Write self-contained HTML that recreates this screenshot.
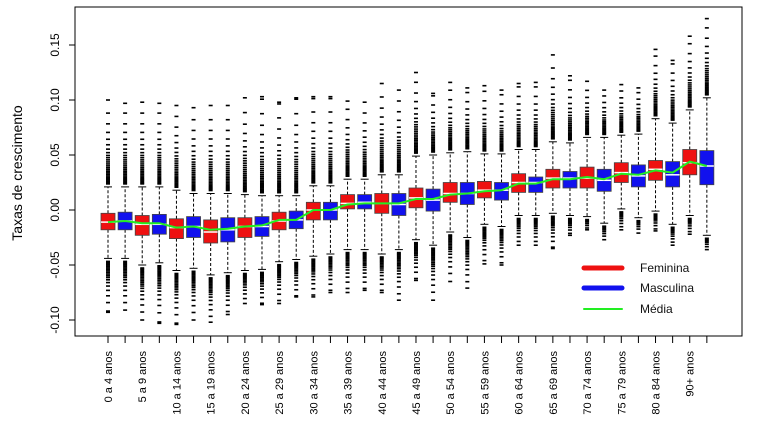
<!DOCTYPE html>
<html><head><meta charset="utf-8"><style>
html,body{margin:0;padding:0;background:#fff;}
svg{display:block;font-family:"Liberation Sans",Arial,sans-serif;}
</style></head><body>
<svg id="chart" width="784" height="439" viewBox="0 0 784 439"></svg>
<script>
const ageGroups=["0 a 4 anos","5 a 9 anos","10 a 14 anos","15 a 19 anos","20 a 24 anos","25 a 29 anos","30 a 34 anos","35 a 39 anos","40 a 44 anos","45 a 49 anos","50 a 54 anos","55 a 59 anos","60 a 64 anos","65 a 69 anos","70 a 74 anos","75 a 79 anos","80 a 84 anos","90+ anos"];
// alternating F, M per age group
const q3=[-0.003,-0.002,-0.005,-0.004,-0.008,-0.006,-0.009,-0.007,-0.007,-0.006,-0.002,-0.001,0.007,0.007,0.014,0.014,0.015,0.015,0.020,0.019,0.025,0.025,0.026,0.025,0.033,0.030,0.037,0.035,0.039,0.037,0.043,0.041,0.045,0.044,0.055,0.054];
const q1=[-0.018,-0.018,-0.023,-0.022,-0.026,-0.025,-0.030,-0.029,-0.025,-0.024,-0.018,-0.017,-0.009,-0.009,0.001,0.001,-0.003,-0.005,0.002,-0.001,0.007,0.005,0.011,0.009,0.016,0.016,0.020,0.020,0.020,0.017,0.025,0.021,0.027,0.021,0.032,0.023];
const med=[-0.011,-0.010,-0.013,-0.013,-0.016,-0.015,-0.020,-0.018,-0.015,-0.015,-0.010,-0.009,0.000,0.000,0.006,0.007,0.006,0.005,0.011,0.009,0.015,0.015,0.018,0.018,0.025,0.025,0.029,0.029,0.029,0.027,0.034,0.031,0.037,0.032,0.043,0.040];
const whiskerHi=[0.021,0.021,0.021,0.021,0.018,0.015,0.015,0.015,0.014,0.013,0.013,0.013,0.022,0.022,0.028,0.028,0.032,0.032,0.049,0.050,0.052,0.053,0.051,0.051,0.055,0.055,0.062,0.061,0.066,0.066,0.068,0.069,0.083,0.079,0.091,0.102];
const whiskerLo=[-0.044,-0.044,-0.050,-0.048,-0.055,-0.053,-0.059,-0.057,-0.055,-0.054,-0.047,-0.045,-0.042,-0.040,-0.036,-0.036,-0.040,-0.036,-0.027,-0.032,-0.020,-0.025,-0.013,-0.015,-0.005,-0.005,-0.003,-0.005,-0.006,-0.012,0.001,-0.007,-0.001,-0.013,-0.005,-0.023];
const outMax=[0.100,0.097,0.098,0.097,0.095,0.093,0.095,0.095,0.102,0.103,0.098,0.102,0.103,0.103,0.099,0.098,0.115,0.109,0.125,0.106,0.116,0.111,0.113,0.109,0.115,0.116,0.141,0.122,0.117,0.109,0.114,0.111,0.146,0.136,0.158,0.174];
const outMin=[-0.093,-0.091,-0.100,-0.103,-0.104,-0.100,-0.102,-0.095,-0.085,-0.086,-0.085,-0.079,-0.079,-0.075,-0.075,-0.073,-0.075,-0.082,-0.064,-0.082,-0.065,-0.071,-0.049,-0.050,-0.032,-0.032,-0.035,-0.023,-0.018,-0.027,-0.018,-0.021,-0.019,-0.032,-0.022,-0.036];
const means=[-0.011,-0.010,-0.012,-0.012,-0.016,-0.015,-0.018,-0.017,-0.015,-0.014,-0.009,-0.009,0.000,0.000,0.005,0.006,0.006,0.006,0.010,0.010,0.014,0.015,0.017,0.018,0.024,0.024,0.028,0.028,0.030,0.028,0.033,0.032,0.036,0.034,0.044,0.040];
const yTicks=[-0.10,-0.05,0.00,0.05,0.10,0.15];
const yTickLabels=["-0.10","-0.05","0.00","0.05","0.10","0.15"];

const NS="http://www.w3.org/2000/svg";
const svg=document.getElementById('chart');
const L=75,R=742,T=7,B=336;
function y(v){return 210-v*1100;}
function x(i){return 108+i*17.11;}
function mk(tag,attrs,parent){const e=document.createElementNS(NS,tag);for(const k in attrs)e.setAttribute(k,attrs[k]);(parent||svg).appendChild(e);return e;}

const frame=mk('rect',{x:L,y:T,width:R-L,height:B-T,fill:'none',stroke:'#000','stroke-width':1});



// y axis
yTicks.forEach((v,i)=>{
  const t=mk('line',{x1:L,x2:L-6,y1:y(v),y2:y(v),stroke:'#000'});
  
  
  const lb=mk('text',{x:0,y:0,transform:`translate(59,${y(v)}) rotate(-90)`,'text-anchor':'middle','font-size':12,fill:'#000'});
  lb.textContent=yTickLabels[i];
  
  
});
const yt=mk('text',{x:0,y:0,transform:'translate(22,173) rotate(-90)','text-anchor':'middle','font-size':14,fill:'#000'});
yt.textContent='Taxas de crescimento';



// x ticks and labels
for(let i=0;i<36;i++){
  const t=mk('line',{x1:x(i),x2:x(i),y1:B,y2:B+7,stroke:'#000'});
  
  
}
ageGroups.forEach((g,k)=>{
  const lb=mk('text',{x:0,y:0,transform:`translate(${x(2*k)+4},351) rotate(-90)`,'text-anchor':'end','font-size':11,fill:'#000'});
  lb.textContent=g;
  
  
});

// boxes
for(let i=0;i<36;i++){
  const cx=x(i), fem=i%2===0;
  const g=mk('g',{});
  
  
  // whiskers
  mk('line',{x1:cx,x2:cx,y1:y(q3[i]),y2:y(whiskerHi[i]),stroke:'#000','stroke-dasharray':'3,2'},g);
  mk('line',{x1:cx,x2:cx,y1:y(q1[i]),y2:y(whiskerLo[i]),stroke:'#000','stroke-dasharray':'3,2'},g);
  mk('line',{x1:cx-4,x2:cx+4,y1:y(whiskerHi[i]),y2:y(whiskerHi[i]),stroke:'#000'},g);
  mk('line',{x1:cx-4,x2:cx+4,y1:y(whiskerLo[i]),y2:y(whiskerLo[i]),stroke:'#000'},g);
  // outliers upper
  let top=y(outMax[i]), start=y(whiskerHi[i]);
  let span=start-top, p=start-3, gap=1.2;
  while(p>top+1){mk('rect',{x:cx-2,y:p-0.8,width:4,height:1.6,fill:'#000'},g);p-=gap;gap*=(p>start-span*0.35)?1.04:1.25;}
  mk('rect',{x:cx-2,y:top-0.8,width:4,height:1.6,fill:'#000'},g);
  // outliers lower
  let bot=y(outMin[i]); start=y(whiskerLo[i]); span=bot-start; p=start+3; gap=1.2;
  while(p<bot-1){mk('rect',{x:cx-2,y:p-0.8,width:4,height:1.6,fill:'#000'},g);p+=gap;gap*=(p<start+span*0.35)?1.04:1.25;}
  mk('rect',{x:cx-2,y:bot-0.8,width:4,height:1.6,fill:'#000'},g);
  // box
  mk('rect',{x:cx-7,y:y(q3[i]),width:14,height:y(q1[i])-y(q3[i]),fill:fem?'#ee1111':'#1111ee',stroke:'#444','stroke-width':0.8},g);
  mk('line',{x1:cx-7,x2:cx+7,y1:y(med[i]),y2:y(med[i]),stroke:'#fff','stroke-width':1.5},g);
}

// mean line
let d='';
means.forEach((m,i)=>{d+=(i?'L':'M')+x(i)+','+y(m);});
const ml=mk('path',{d:d,fill:'none',stroke:'#22ee22','stroke-width':2,'stroke-linejoin':'round'});



// legend
const leg=mk('g',{});


[['Feminina','#ee1111',5,268],['Masculina','#1111ee',5,288],['Média','#22ee22',2,309]].forEach(([t,c,w,yy])=>{
  const e=mk('g',{},leg);
  
  
  mk('line',{x1:584,x2:622,y1:yy,y2:yy,stroke:c,'stroke-width':w,'stroke-linecap':'round'},e);
  const tx=mk('text',{x:640,y:yy+4,'font-size':12,fill:'#111'},e);
  tx.textContent=t;
});
</script>
</body></html>
